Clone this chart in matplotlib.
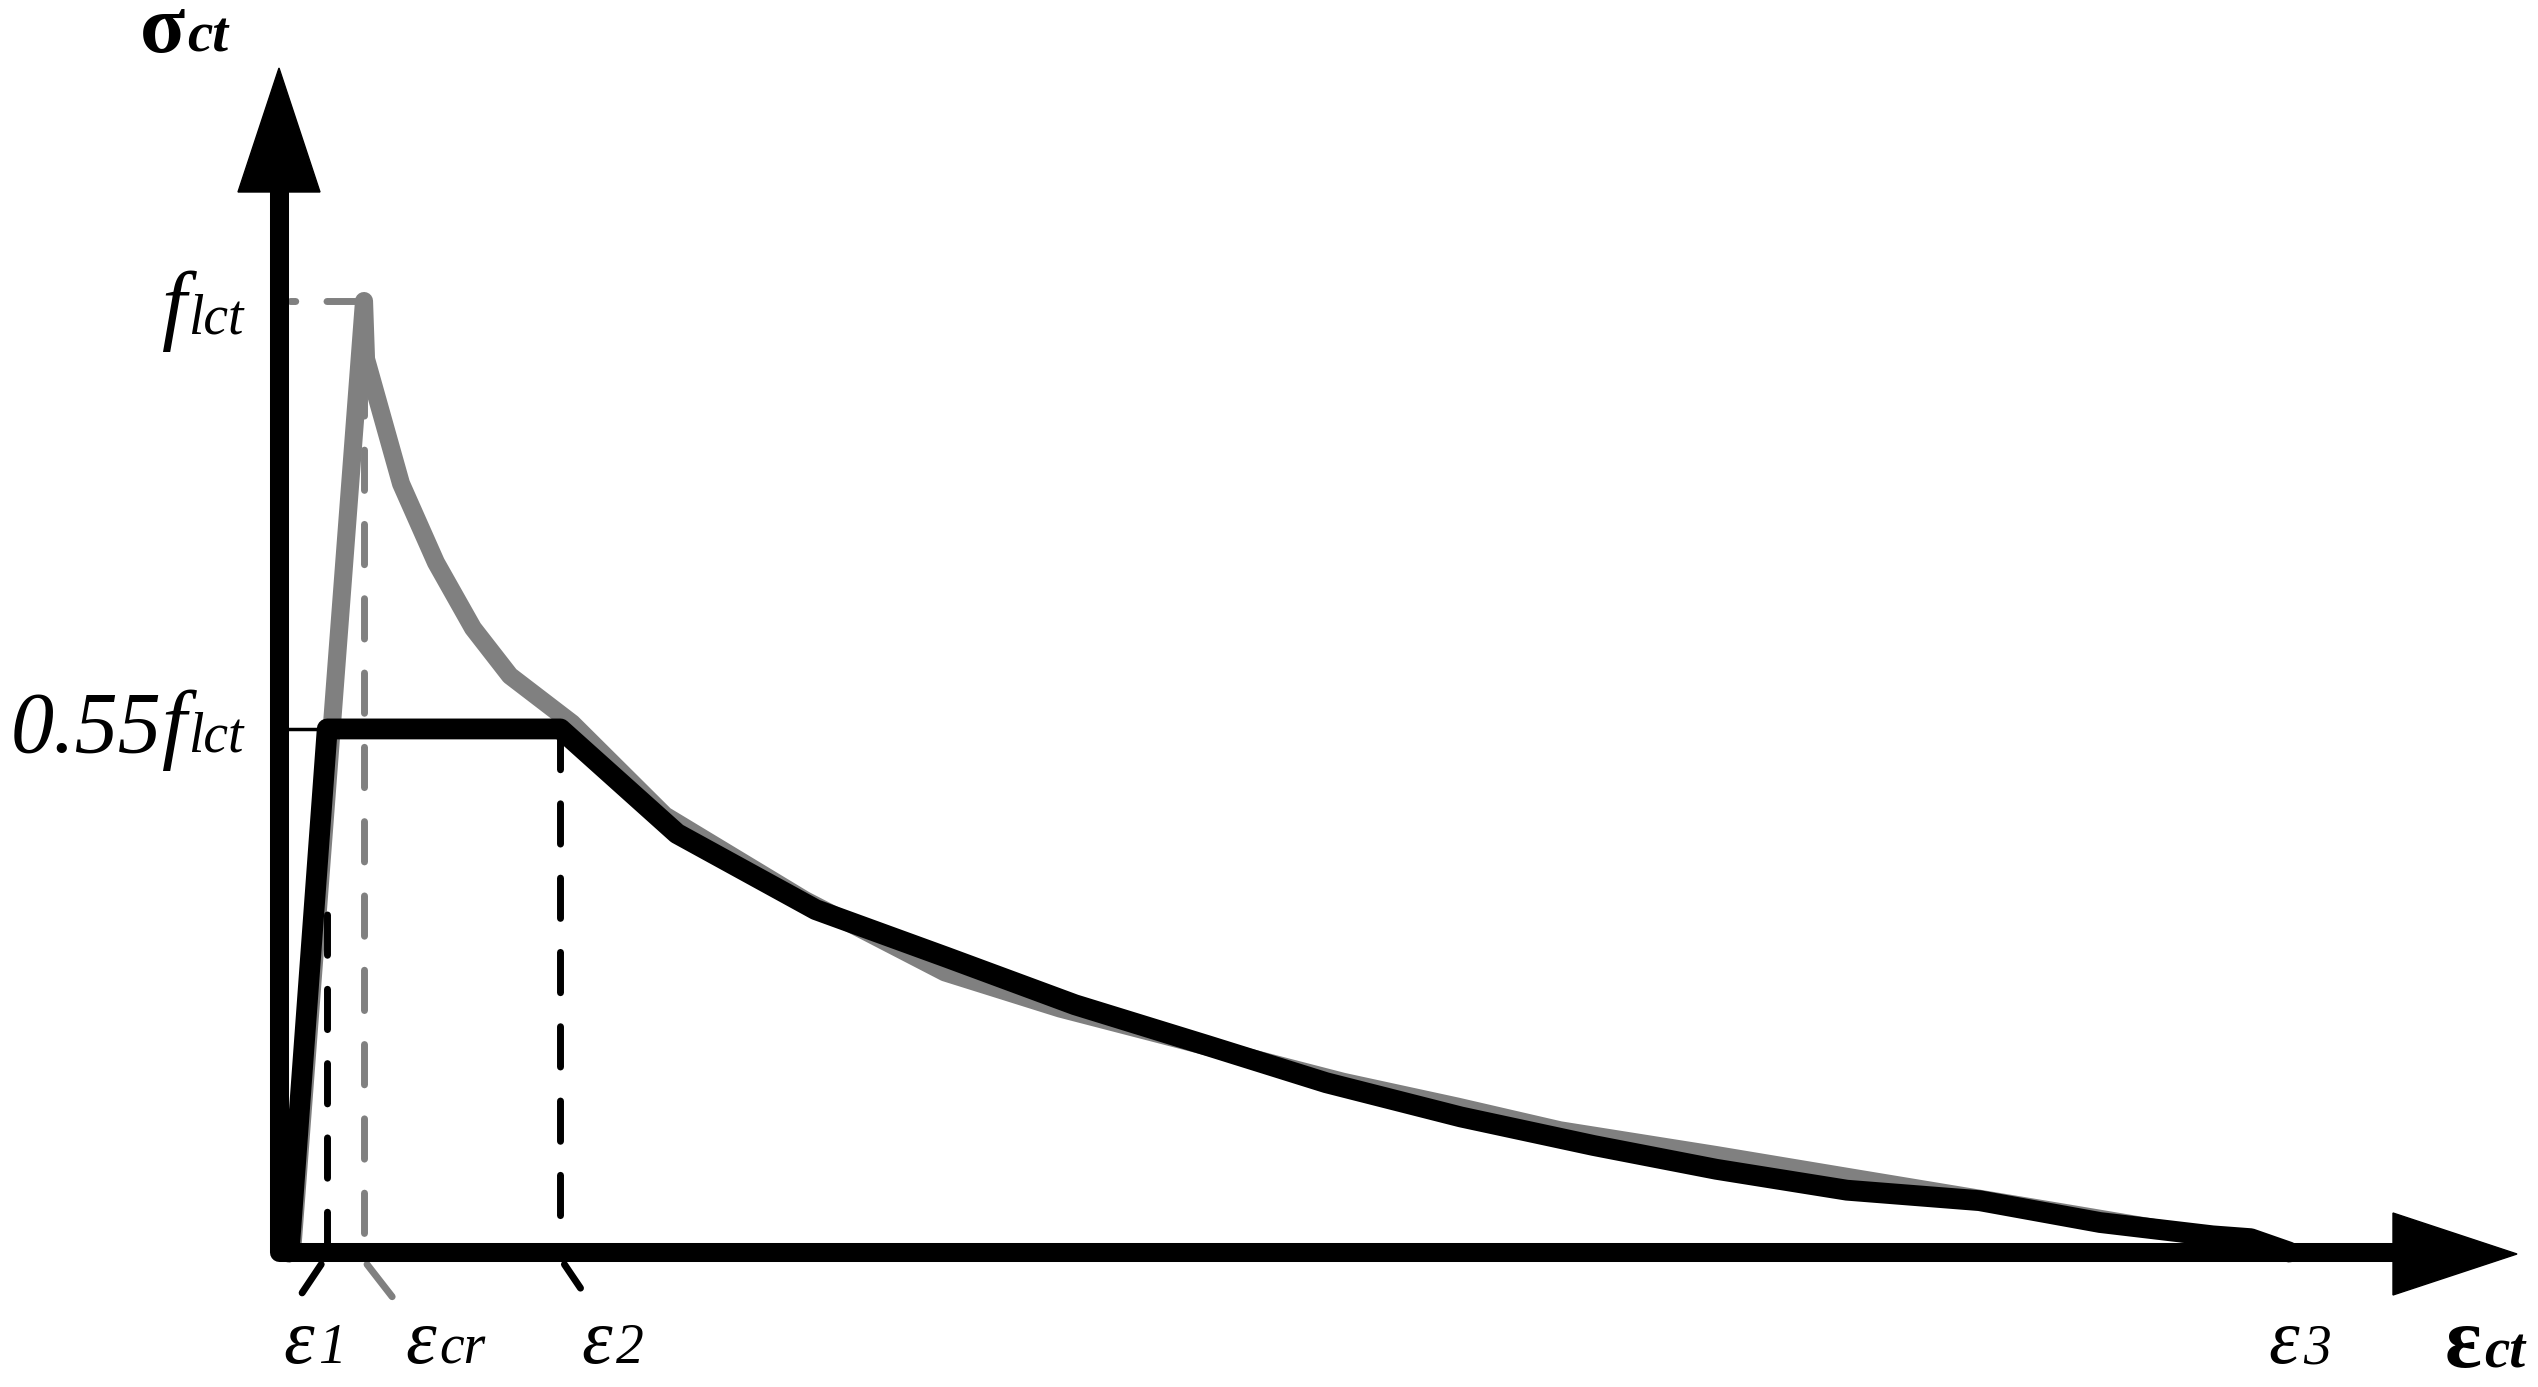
import matplotlib
matplotlib.use("Agg")
import matplotlib.pyplot as plt
from matplotlib.transforms import IdentityTransform

plt.rcParams['lines.scale_dashes'] = False

# ---------------- data (stress normalised by f_lct, strain in arbitrary units) ----
eps_1 = 0.24
eps_cr = 0.423
eps_2 = 1.40
eps_3 = 10.0
f_lct = 1.0
plateau = 0.55

gray_eps = [0.065, 0.423, 0.433, 0.607, 0.781, 0.965, 1.149, 1.458, 1.920, 2.617,
            3.313, 3.886, 4.617, 5.294, 5.861, 6.373, 7.149, 7.831, 8.861, 9.423,
            9.756, 9.95]
gray_sig = [0.0, 1.0, 0.939, 0.808, 0.725, 0.656, 0.606, 0.556, 0.459, 0.370,
            0.294, 0.256, 0.216, 0.179, 0.153, 0.128, 0.102, 0.078, 0.042, 0.022,
            0.005, 0.0]

black_eps = [0.05, 0.24, 1.40, 1.98, 2.67, 3.32, 3.96, 4.62, 5.21, 5.88, 6.54,
             7.15, 7.80, 8.46, 9.06, 9.62, 9.81, 10.0]
black_sig = [0.0, 0.55, 0.55, 0.44, 0.36, 0.31, 0.26, 0.217, 0.178, 0.142, 0.112,
             0.087, 0.065, 0.054, 0.031, 0.017, 0.014, 0.0]

# ---------------- layout ----------------
W, H = 2538, 1387
PX0, PY0 = 279, 1252      # pixel position of the origin
SX, SY = 201.0, 951.0     # pixels per data unit


def X(px):
    return (px - PX0) / SX


def Y(py):
    return (PY0 - py) / SY


fig = plt.figure(figsize=(W / 100, H / 100), dpi=100)
ax = fig.add_axes([0, 0, 1, 1])
ax.set_xlim(X(0), X(W))
ax.set_ylim(Y(H), Y(0))
ax.axis('off')

GRAY = '#808080'
DASH = (29.0, 24.5)

# gray curve (original)
ax.plot(gray_eps, gray_sig, color=GRAY, lw=13, solid_joinstyle='round',
        solid_capstyle='round', zorder=2)

# gray dashed guides to the peak
ax.plot([eps_cr, X(290)], [f_lct, f_lct], color=GRAY, lw=5, dashes=(27, 22.5),
        dash_capstyle='round', zorder=3)
ax.plot([eps_cr, eps_cr], [f_lct, 0], color=GRAY, lw=5, dashes=DASH,
        dash_capstyle='round', zorder=3)

# black curve (model)
ax.plot(black_eps, black_sig, color='black', lw=15, solid_joinstyle='round',
        solid_capstyle='round', zorder=4)

# black dashed guides
ax.plot([eps_1, eps_1], [0, 0.36], color='black', lw=5, dashes=DASH,
        dash_capstyle='round', zorder=5)
ax.plot([eps_2, eps_2], [plateau, 0], color='black', lw=5, dashes=DASH,
        dash_capstyle='round', zorder=5)
ax.plot([0, black_eps[1] - 0.03], [plateau, plateau], color='black', lw=2.5,
        solid_capstyle='butt', zorder=5)

# small slanted tick strokes below the axis
ax.plot([eps_1 - 0.03, eps_1 - 0.125], [-0.013, -0.043], color='black', lw=5,
        solid_capstyle='round', clip_on=False, zorder=5)
ax.plot([eps_cr + 0.015, eps_cr + 0.14], [-0.013, -0.047], color=GRAY, lw=5,
        solid_capstyle='round', clip_on=False, zorder=5)
ax.plot([eps_2 + 0.02, eps_2 + 0.10], [-0.013, -0.038], color='black', lw=5,
        solid_capstyle='round', clip_on=False, zorder=5)

# axes with arrows
ax.plot([0, 0, X(2400)], [Y(190), 0, 0], color='black', lw=13.7,
        solid_joinstyle='round', solid_capstyle='butt', zorder=6)
ax.fill([X(238), X(320), X(279)], [Y(192), Y(192), Y(68)], color='black', zorder=6)
ax.fill([X(2393), X(2393), X(2517)], [Y(1213), Y(1295), Y(1254)], color='black', zorder=6)

# ---------------- labels ----------------
fig.canvas.draw()
renderer = fig.canvas.get_renderer()
FAM = ['Liberation Serif', 'DejaVu Serif']


def label(parts, x_px, base_py, right=False):
    texts = []
    x = 0.0
    for s, size, weight, style, gap in parts:
        t = fig.text(x, H - base_py, s, transform=IdentityTransform(),
                     fontsize=size, fontweight=weight, fontstyle=style,
                     family=FAM, ha='left', va='baseline', color='black')
        bb = t.get_window_extent(renderer)
        texts.append((t, x))
        x = bb.x1 + gap
    shift = x_px - x if right else x_px
    for t, x0 in texts:
        t.set_x(x0 + shift)


label([('σ', 60, 'bold', 'normal', 2), ('ct', 41, 'bold', 'italic', 0)], 140, 52)
label([('f', 64, 'normal', 'italic', 1), ('lct', 40, 'normal', 'italic', 0)], 243, 333, right=True)
label([('0.55', 62, 'normal', 'italic', 0), ('f', 64, 'normal', 'italic', 1),
       ('lct', 40, 'normal', 'italic', 0)], 243, 752, right=True)

label([('ε', 56, 'normal', 'italic', 4), ('1', 40, 'normal', 'italic', 0)], 283, 1363)
label([('ε', 56, 'normal', 'italic', 4), ('cr', 40, 'normal', 'italic', 0)], 405, 1363)
label([('ε', 56, 'normal', 'italic', 4), ('2', 40, 'normal', 'italic', 0)], 581, 1363)
label([('ε', 56, 'normal', 'italic', 4), ('3', 40, 'normal', 'italic', 0)], 2268, 1363)
label([('ε', 62, 'bold', 'normal', 2), ('ct', 41, 'bold', 'italic', 0)], 2525, 1367, right=True)

fig.savefig('out.png', dpi=100, facecolor='white')
